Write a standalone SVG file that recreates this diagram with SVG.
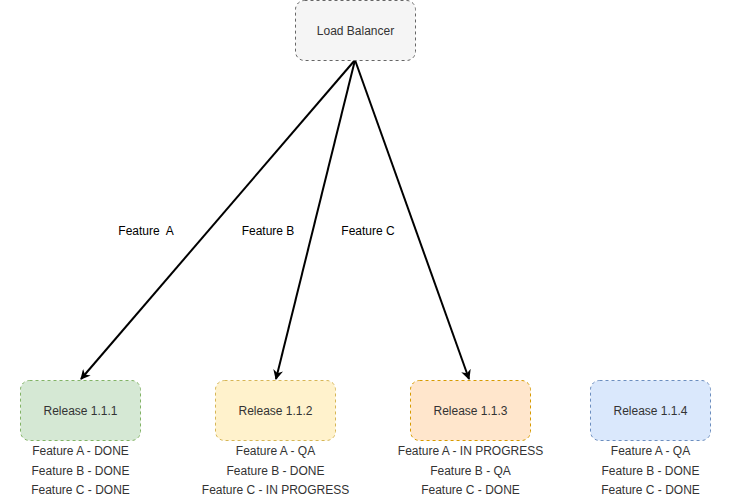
<svg xmlns="http://www.w3.org/2000/svg" width="731" height="501" viewBox="0 0 731 501">
<defs>
<style>
text{font-family:"Liberation Sans",Arial,sans-serif;font-size:12px;text-anchor:middle;dominant-baseline:central}
.box{stroke-dasharray:3 3;stroke-width:1}
.t{fill:#333}
.lbl{fill:#000}
.edge{stroke:#000;stroke-width:2;fill:none}
</style>
<marker id="arr" viewBox="0 0 10 10" refX="9" refY="5" markerWidth="5" markerHeight="5" orient="auto" markerUnits="strokeWidth">
<path d="M0,0 L10,5 L0,10 L3,5 Z" fill="#000"/>
</marker>
</defs>
<rect width="731" height="501" fill="#fff"/>
<g id="connectors">
<line class="edge" x1="355" y1="60" x2="81" y2="379" marker-end="url(#arr)"/>
<line class="edge" x1="355" y1="60" x2="276" y2="379" marker-end="url(#arr)"/>
<line class="edge" x1="355" y1="60" x2="469" y2="379" marker-end="url(#arr)"/>
<text class="lbl" x="146" y="230.5">Feature&#160; A</text>
<text class="lbl" x="268" y="230.5">Feature B</text>
<text class="lbl" x="368" y="230.5">Feature C</text>
</g>
<g id="lb">
<rect class="box" x="295.5" y="0.5" width="120" height="60" rx="9" fill="#f5f5f5" stroke="#666"/>
<text class="t" x="355.5" y="30.5">Load Balancer</text>
</g>
<g id="r111">
<rect class="box" x="20.5" y="380.5" width="120" height="60" rx="9" fill="#d5e8d4" stroke="#82b366"/>
<text class="t" x="80.5" y="410.5">Release 1.1.1</text>
<text class="t" x="80.5" y="451">Feature A - DONE</text>
<text class="t" x="80.5" y="470.5">Feature B - DONE</text>
<text class="t" x="80.5" y="490">Feature C - DONE</text>
</g>
<g id="r112">
<rect class="box" x="215.5" y="380.5" width="120" height="60" rx="9" fill="#fff2cc" stroke="#d6b656"/>
<text class="t" x="275.5" y="410.5">Release 1.1.2</text>
<text class="t" x="275.5" y="451">Feature A - QA</text>
<text class="t" x="275.5" y="470.5">Feature B - DONE</text>
<text class="t" x="275.5" y="490">Feature C - IN PROGRESS</text>
</g>
<g id="r113">
<rect class="box" x="410.5" y="380.5" width="120" height="60" rx="9" fill="#ffe6cc" stroke="#d79b00"/>
<text class="t" x="470.5" y="410.5">Release 1.1.3</text>
<text class="t" x="470.5" y="451">Feature A - IN PROGRESS</text>
<text class="t" x="470.5" y="470.5">Feature B - QA</text>
<text class="t" x="470.5" y="490">Feature C - DONE</text>
</g>
<g id="r114">
<rect class="box" x="590.5" y="380.5" width="120" height="60" rx="9" fill="#dae8fc" stroke="#6c8ebf"/>
<text class="t" x="650.5" y="410.5">Release 1.1.4</text>
<text class="t" x="650.5" y="451">Feature A - QA</text>
<text class="t" x="650.5" y="470.5">Feature B - DONE</text>
<text class="t" x="650.5" y="490">Feature C - DONE</text>
</g>
</svg>
